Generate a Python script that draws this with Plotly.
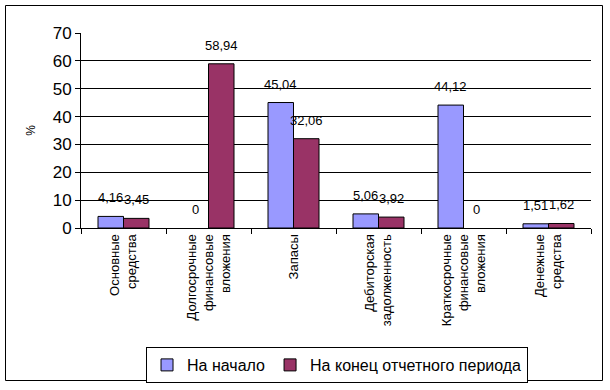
import plotly.graph_objects as go

categories = [
    "Основные<br>средства",
    "Долгосрочные<br>финансовые<br>вложения",
    "Запасы",
    "Дебиторская<br>задолженность",
    "Краткосрочные<br>финансовые<br>вложения",
    "Денежные<br>средства",
]
start_values = [4.16, 0, 45.04, 5.06, 44.12, 1.51]
end_values = [3.45, 58.94, 32.06, 3.92, 0, 1.62]
series_names = ["На начало", "На конец отчетного периода"]
y_ticks = [0, 10, 20, 30, 40, 50, 60, 70]

W, H = 610, 390
ML, MR, MT, MB = 81, 19, 33, 162
PW, PH = W - ML - MR, H - MT - MB


def fmt(v):
    return ("%g" % v).replace(".", ",")


def edge(vals):
    return [1 if v else 0 for v in vals]


fig = go.Figure()
fig.add_trace(go.Bar(name=series_names[0], x=categories, y=start_values,
                     marker=dict(color="#9999FF", line=dict(color="black", width=edge(start_values)))))
fig.add_trace(go.Bar(name=series_names[1], x=categories, y=end_values,
                     marker=dict(color="#993366", line=dict(color="black", width=edge(end_values)))))

bar_px = PW / len(categories) * 0.6 / 2
annotations = []
for vals, sh in ((start_values, -bar_px / 2), (end_values, bar_px / 2)):
    for c, v in zip(categories, vals):
        annotations.append(dict(x=c, y=v, xref="x", yref="y", text=fmt(v),
                                showarrow=False, xshift=sh, yshift=9,
                                yanchor="bottom",
                                font=dict(family="Arial, Liberation Sans", size=13, color="black")))


def px2paper_x(p):
    return (p - ML) / PW


def px2paper_y(p):
    return (H - MB - p) / PH


fig.update_layout(
    width=W, height=H,
    margin=dict(l=ML, r=MR, t=MT, b=MB, autoexpand=False),
    paper_bgcolor="white", plot_bgcolor="white",
    barmode="group", bargap=0.4, bargroupgap=0,
    font=dict(family="Arial, Liberation Sans", color="black"),
    showlegend=True,
    hovermode=False,
    legend=dict(orientation="h", x=0.502, xanchor="center",
                y=px2paper_y(347), yanchor="top",
                bordercolor="black", borderwidth=1,
                font=dict(size=16), itemwidth=30,
                tracegroupgap=0),
    xaxis=dict(tickangle=-90, tickson="boundaries", ticks="outside", ticklen=5,
               tickcolor="black", showline=True, linecolor="black", linewidth=1,
               tickfont=dict(size=13), showgrid=False, automargin=False),
    yaxis=dict(range=[0, 70], tickvals=y_ticks, ticks="outside", ticklen=5,
               tickcolor="black", showline=True, linecolor="black", linewidth=1,
               showgrid=True, gridcolor="black", gridwidth=1,
               tickfont=dict(size=17), zeroline=False, automargin=False,
               title=dict(text="%", font=dict(size=12), standoff=14)),
    annotations=annotations,
    shapes=[dict(type="rect", xref="paper", yref="paper",
                 x0=px2paper_x(5.5), x1=px2paper_x(602.5),
                 y0=px2paper_y(380.5), y1=px2paper_y(5.5),
                 line=dict(color="black", width=1), layer="below")],
)

fig.write_html("out.html", config={"displayModeBar": False, "staticPlot": True},
               post_script="document.body.style.margin='0';document.body.style.overflow='hidden';")
